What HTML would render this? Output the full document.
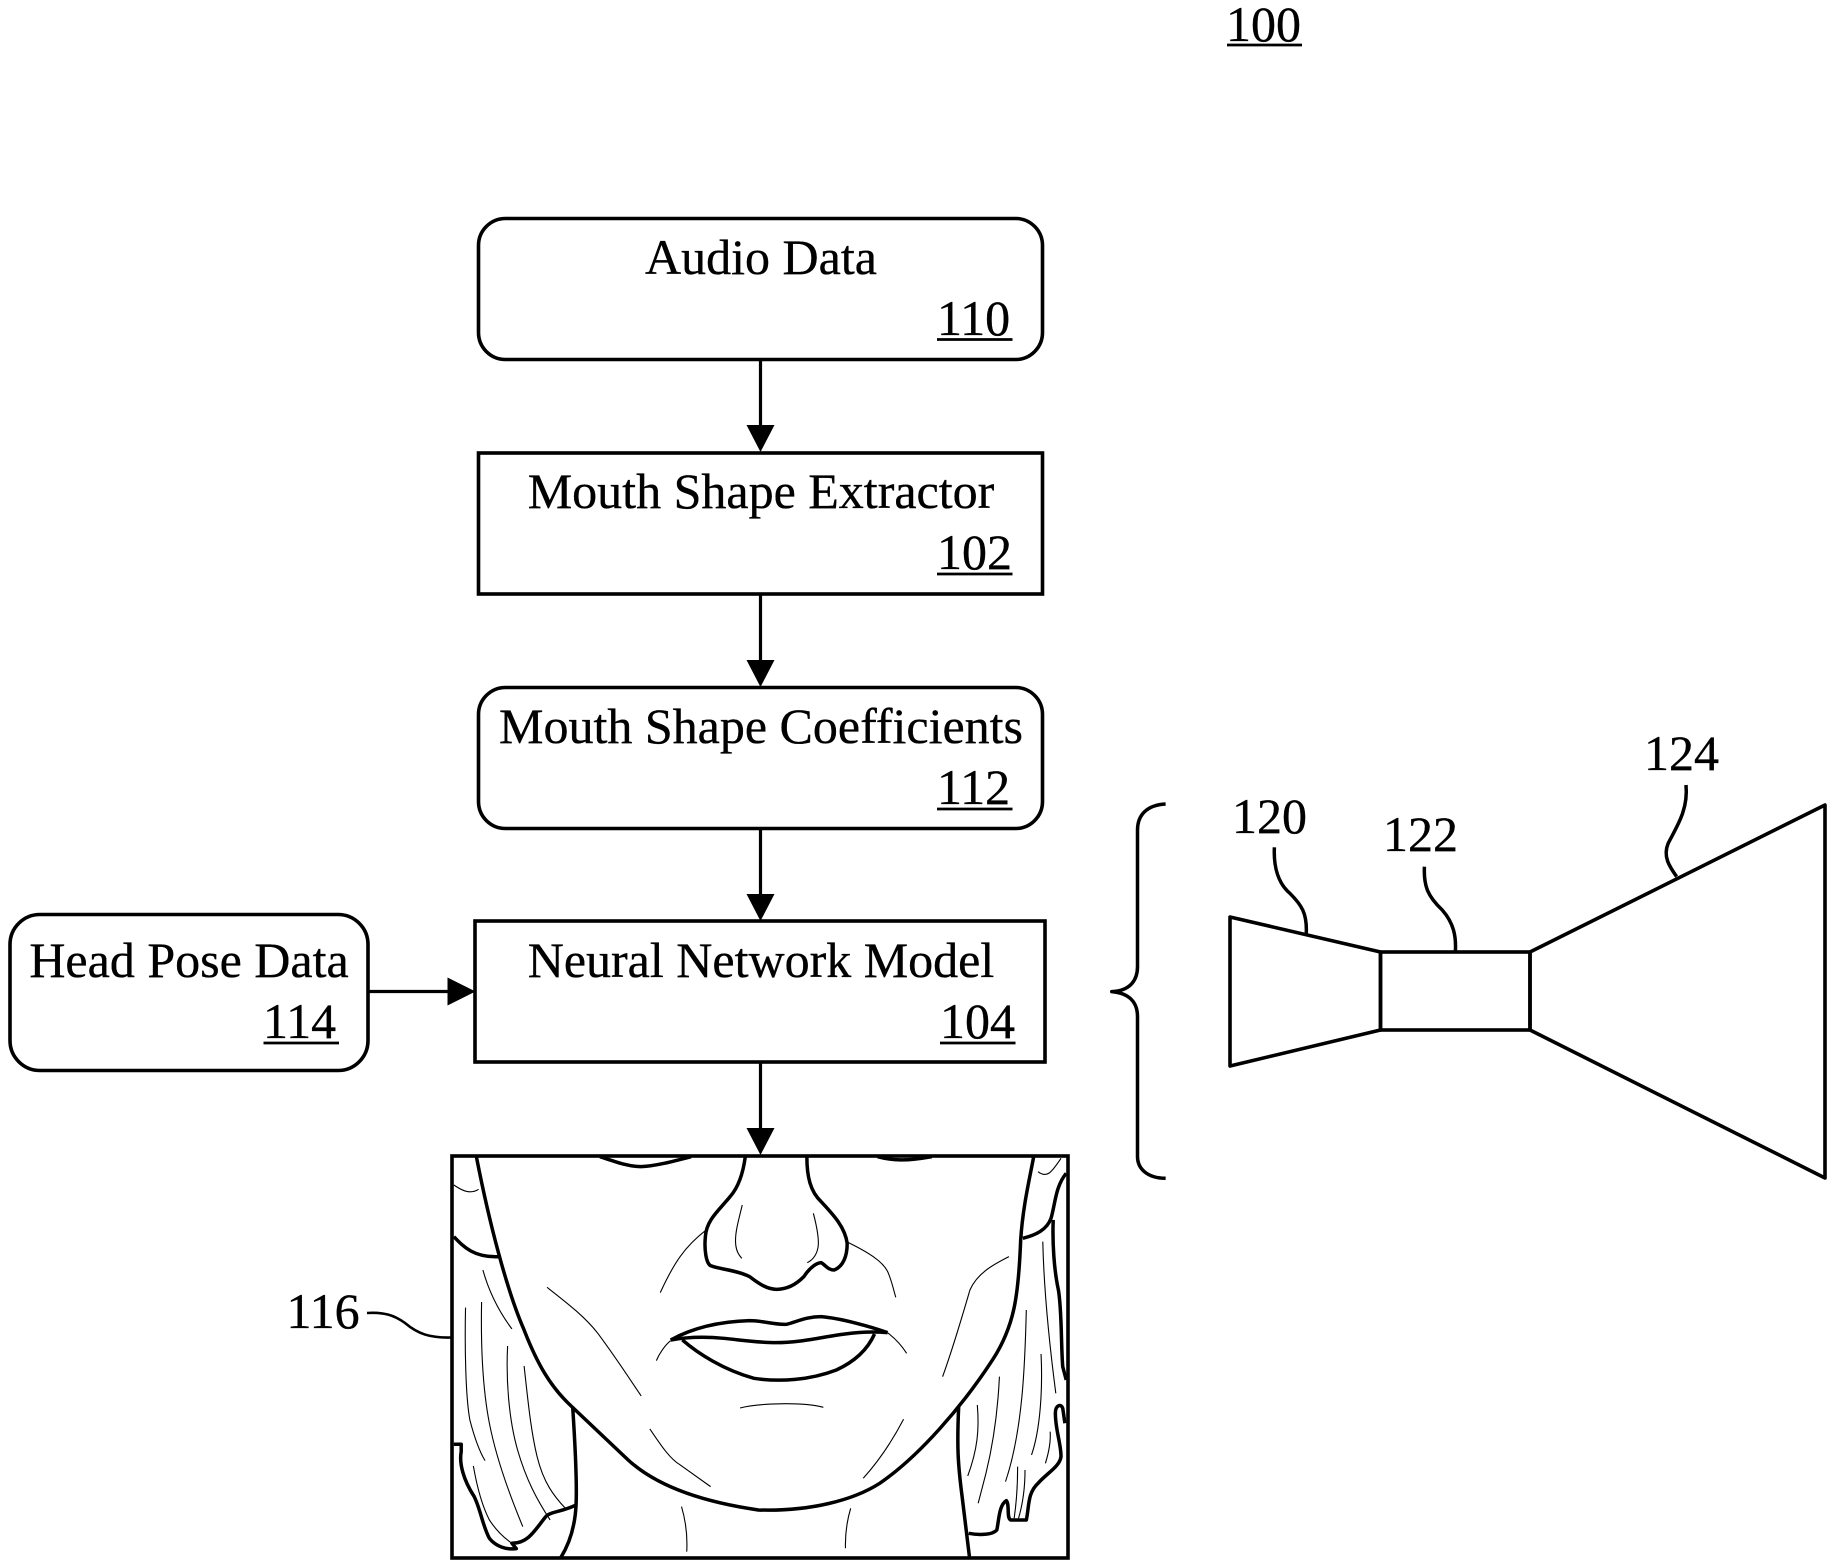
<!DOCTYPE html>
<html><head><meta charset="utf-8"><style>
html,body{margin:0;padding:0;background:#fff}
svg{display:block}
text{font-family:"Liberation Serif",serif;font-size:50px;fill:#000;stroke:#000;stroke-width:.35}
.t{fill:none;stroke:#000;stroke-width:3.5;vector-effect:non-scaling-stroke;stroke-linejoin:round}
.f{fill:none;stroke:#000;stroke-width:1.1;vector-effect:non-scaling-stroke}
.b{fill:#fff;stroke:#000;stroke-width:3.6}
.l{stroke:#000;stroke-width:3.2}
.u{stroke:#000;stroke-width:2.8}
</style></head><body>
<svg width="1835" height="1568" viewBox="0 0 1835 1568" xmlns="http://www.w3.org/2000/svg">
<text x="1226" y="41">100</text><line class="u" x1="1227" x2="1302" y1="45" y2="45"/>

<rect class="b" x="478.5" y="218.5" width="564" height="141" rx="27"/>
<rect class="b" x="478.5" y="453" width="564" height="141"/>
<rect class="b" x="478.5" y="687.5" width="564" height="141" rx="27"/>
<rect class="b" x="475" y="921" width="570" height="141"/>
<rect class="b" x="10" y="914.5" width="358" height="156" rx="30"/>

<text x="761" y="274" text-anchor="middle">Audio Data</text>
<text x="937" y="335">110</text><line class="u" x1="937" x2="1012.5" y1="339.5" y2="339.5"/>
<text x="761" y="508" text-anchor="middle">Mouth Shape Extractor</text>
<text x="937" y="569">102</text><line class="u" x1="937" x2="1012.5" y1="574" y2="574"/>
<text x="761" y="743" text-anchor="middle">Mouth Shape Coefficients</text>
<text x="937" y="804">112</text><line class="u" x1="937" x2="1012.5" y1="809" y2="809"/>
<text x="761" y="977" text-anchor="middle">Neural Network Model</text>
<text x="940" y="1038">104</text><line class="u" x1="940" x2="1015.5" y1="1043" y2="1043"/>
<text x="189" y="977" text-anchor="middle">Head Pose Data</text>
<text x="263" y="1038">114</text><line class="u" x1="263.5" x2="339" y1="1043" y2="1043"/>

<line class="l" x1="760.5" x2="760.5" y1="360" y2="430"/><polygon points="746.5,425 774.5,425 760.5,452"/>
<line class="l" x1="760.5" x2="760.5" y1="594" y2="665"/><polygon points="746.5,660 774.5,660 760.5,687"/>
<line class="l" x1="760.5" x2="760.5" y1="829" y2="899"/><polygon points="746.5,894 774.5,894 760.5,921"/>
<line class="l" x1="760.5" x2="760.5" y1="1062" y2="1133"/><polygon points="746.5,1128 774.5,1128 760.5,1155"/>
<line class="l" x1="368" x2="450" y1="991.5" y2="991.5"/><polygon points="447.5,977.5 447.5,1005.5 475.5,991.5"/>

<rect x="452" y="1156" width="616" height="402" fill="none" stroke="#000" stroke-width="3.6"/>
<g transform="translate(420,1130) scale(0.4337,0.3333)">
<g transform="translate(0,80)">
<path class="t" d="M130,0C160,200 200,400 240,520C270,620 300,690 350,750L480,910C530,970 620,1030 780,1060C900,1065 1000,1030 1060,980C1150,900 1250,750 1320,610C1370,510 1380,420 1385,250C1390,150 1405,70 1415,0"/>
<path class="t" d="M415,0C450,15 480,30 510,30C545,28 590,12 625,0"/>
<path class="t" d="M1055,0C1090,12 1120,14 1180,0"/>
<path class="t" d="M750,0C745,50 735,90 715,120C690,160 660,190 658,240C655,280 660,320 670,327C690,338 730,340 760,360C780,380 800,398 822,398C850,398 870,380 885,360C895,340 910,320 925,318C935,325 940,340 955,340C975,330 985,300 985,260C980,210 950,170 925,135C900,105 892,60 892,0"/>
<path class="t" d="M578,550C620,520 680,495 760,492C790,492 820,505 845,503C870,495 890,480 925,480C970,485 1040,510 1078,528"/>
<path class="t" d="M578,550C620,540 660,540 700,545C740,550 780,558 820,558C880,558 930,540 980,532C1020,525 1050,525 1078,528"/>
<path class="t" d="M605,550C640,590 700,640 770,665C830,677 900,670 960,640C1010,610 1035,570 1048,532"/>
<path class="t" d="M78,240C100,270 125,305 185,300"/>
<path class="t" d="M1390,245C1420,235 1445,220 1455,185C1465,140 1465,90 1490,50"/>
<path class="t" d="M352,750C358,870 362,970 360,1040C358,1110 345,1160 325,1202"/>
<path class="t" d="M78,863L95,863L95,885C90,920 100,970 125,1020C140,1060 145,1110 160,1145C175,1170 200,1180 222,1176L212,1160C250,1160 265,1120 290,1080C300,1065 330,1065 360,1045"/>
<path class="t" d="M1242,750C1238,870 1240,920 1250,1020L1267,1202"/>
<path class="t" d="M1265,1130C1290,1136 1320,1135 1330,1120C1335,1090 1335,1045 1352,1032C1360,1045 1352,1085 1362,1090L1398,1090C1405,1050 1400,1010 1425,980C1445,950 1475,930 1478,900C1478,860 1465,820 1465,770C1465,745 1478,740 1482,755L1487,800"/>
<path class="t" d="M1460,190C1458,260 1462,340 1472,400C1480,460 1478,570 1482,630L1490,670"/>
<path class="f" d="M78,85C95,100 115,115 135,98"/>
<path class="f" d="M1425,45C1445,65 1455,50 1478,5"/>
<path class="f" d="M743,145C735,190 725,230 728,265C730,285 735,295 742,305"/>
<path class="f" d="M907,170C915,210 920,250 918,270C915,295 905,310 893,318"/>
<path class="f" d="M660,220C610,270 585,320 554,408"/>
<path class="f" d="M988,258C1030,285 1070,315 1080,350C1088,375 1092,400 1097,422"/>
<path class="f" d="M293,392C340,440 380,480 410,530C450,600 480,660 510,718"/>
<path class="f" d="M1358,300C1320,325 1285,350 1268,400C1250,480 1230,570 1205,660"/>
<path class="f" d="M578,552C565,565 552,590 545,612"/>
<path class="f" d="M1078,528C1095,545 1110,565 1122,590"/>
<path class="f" d="M738,754C780,740 880,735 930,752"/>
<path class="f" d="M530,817C555,865 575,905 600,925L670,990"/>
<path class="f" d="M1115,788C1090,850 1060,910 1022,965"/>
<path class="f" d="M603,1050C612,1090 617,1140 615,1185"/>
<path class="f" d="M993,1055C985,1090 980,1130 981,1175"/>
<path class="f" d="M145,340C160,410 185,470 212,517"/>
<path class="f" d="M105,453C103,570 105,720 115,790C125,840 135,880 150,912"/>
<path class="f" d="M142,436C140,570 145,700 160,800C175,900 205,1010 237,1110"/>
<path class="f" d="M202,568C198,670 205,790 225,880C245,970 270,1030 300,1090"/>
<path class="f" d="M240,628C248,720 255,820 270,900C285,980 310,1020 335,1055"/>
<path class="f" d="M123,928C130,980 140,1040 160,1090C175,1120 195,1145 212,1160"/>
<path class="f" d="M1336,660C1332,770 1320,870 1305,950L1287,1040"/>
<path class="f" d="M1285,745C1290,820 1285,880 1263,958"/>
<path class="f" d="M1398,460C1395,620 1390,820 1350,975"/>
<path class="f" d="M1436,255C1438,370 1445,500 1466,710"/>
<path class="f" d="M1432,592C1436,700 1430,820 1410,895"/>
<path class="f" d="M1453,825C1455,860 1448,895 1442,920"/>
<path class="f" d="M1378,930C1378,980 1375,1040 1370,1085"/>
<path class="f" d="M1395,940C1395,1000 1388,1050 1380,1085"/>
</g>
</g>

<text x="286.5" y="1328">116</text>
<path d="M367,1313C384,1312 394,1315 405,1323C418,1334 430,1338 451,1337.5" fill="none" stroke="#000" stroke-width="2.6"/>

<g transform="translate(1100,720) scale(0.4688,0.3333)">
<path class="t" d="M140,252C100,255 80,285 80,330L80,740C80,780 65,812 25,815C65,820 80,850 80,890L80,1310C80,1345 100,1375 140,1375"/>
<path class="t" d="M372,382C370,440 380,490 405,520C430,555 442,580 440,640"/>
<path class="t" d="M692,440C690,500 700,530 730,570C755,610 760,650 758,695"/>
<path class="t" d="M1250,195C1255,270 1230,320 1212,370C1200,410 1215,440 1230,470"/>
</g>
<polygon points="1230,917 1380.5,952 1380.5,1030 1230,1066" fill="none" stroke="#000" stroke-width="3.6" stroke-linejoin="round"/>
<rect x="1380.5" y="952" width="149.5" height="78" fill="none" stroke="#000" stroke-width="3.6"/>
<polygon points="1530,952 1825,805 1825,1178 1530,1030" fill="none" stroke="#000" stroke-width="3.6" stroke-linejoin="round"/>
<text x="1232" y="833">120</text>
<text x="1383" y="851">122</text>
<text x="1644" y="770">124</text>
</svg>
</body></html>
